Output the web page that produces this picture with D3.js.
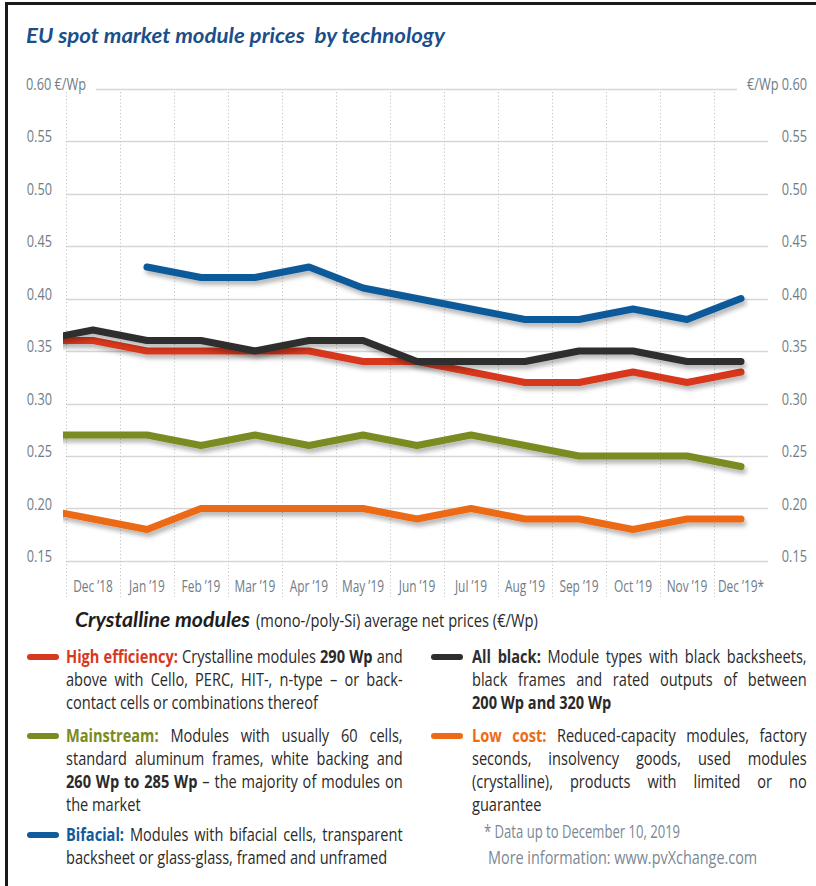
<!DOCTYPE html>
<html>
<head>
<meta charset="utf-8">
<script src="https://cdn.jsdelivr.net/npm/d3@7"></script>
<style>
  body { margin: 0; background: #fff; }
  svg { display: block; }
</style>
</head>
<body>
<div id="chart"></div>
<script>
// months on the x axis (Nov '18 only feeds the clipped lead-in of the lines)
var months = ["Nov ’18", "Dec ’18", "Jan ’19", "Feb ’19", "Mar ’19", "Apr ’19", "May ’19",
              "Jun ’19", "Jul ’19", "Aug ’19", "Sep ’19", "Oct ’19", "Nov ’19", "Dec ’19*"];
var shownMonths = months.slice(1);

// prices in €/Wp
var highEfficiency = [0.36, 0.36, 0.35, 0.35, 0.35, 0.35, 0.34, 0.34, 0.33, 0.32, 0.32, 0.33, 0.32, 0.33];
var allBlack       = [0.36, 0.37, 0.36, 0.36, 0.35, 0.36, 0.36, 0.34, 0.34, 0.34, 0.35, 0.35, 0.34, 0.34];
var mainstream     = [0.27, 0.27, 0.27, 0.26, 0.27, 0.26, 0.27, 0.26, 0.27, 0.26, 0.25, 0.25, 0.25, 0.24];
var bifacial       = [null, null, 0.43, 0.42, 0.42, 0.43, 0.41, 0.40, 0.39, 0.38, 0.38, 0.39, 0.38, 0.40];
var lowCost        = [0.20, 0.19, 0.18, 0.20, 0.20, 0.20, 0.20, 0.19, 0.20, 0.19, 0.19, 0.18, 0.19, 0.19];

var yTicks = [0.15, 0.20, 0.25, 0.30, 0.35, 0.40, 0.45, 0.50, 0.55, 0.60];

var colors = {
    high: "#d7391f", black: "#2e2e2e", main: "#7b8a21", bifacial: "#115a9b", low: "#ec6b14"
};

// legend texts: each line is a list of [text, style] pieces
var legendLeft = [
  { color: colors.high, lines: [
      [["High efficiency:", colors.high], [" Crystalline modules "], ["290 Wp", "b"], [" and"]],
      [["above with Cello, PERC, HIT-, n-type – or back-"]],
      [["contact cells or combinations thereof"]] ] },
  { color: colors.main, lines: [
      [["Mainstream:", colors.main], [" Modules with usually 60 cells,"]],
      [["standard aluminum frames, white backing and"]],
      [["260 Wp to 285 Wp", "b"], [" – the majority of modules on"]],
      [["the market"]] ] },
  { color: colors.bifacial, lines: [
      [["Bifacial:", colors.bifacial], [" Modules with bifacial cells, transparent"]],
      [["backsheet or glass-glass, framed and unframed"]] ] }
];
var legendRight = [
  { color: colors.black, lines: [
      [["All black:", colors.black], [" Module types with black backsheets,"]],
      [["black frames and rated outputs of between"]],
      [["200 Wp and 320 Wp", "b"]] ] },
  { color: colors.low, lines: [
      [["Low cost:", colors.low], [" Reduced-capacity modules, factory"]],
      [["seconds, insolvency goods, used modules"]],
      [["(crystalline), products with limited or no"]],
      [["guarantee"]] ] }
];
var footnotes = ["* Data up to December 10, 2019", "More information: www.pvXchange.com"];

// no condensed font installed: squeeze Open Sans horizontally instead
var FONT = "'Open Sans', 'Noto Sans', sans-serif";
var SQUEEZE = 0.75;
var LEGEND_SQUEEZE = 0.81;
var GREY = "#6f7c87";

var W = 816, H = 886;
var svg = d3.select("#chart").append("svg")
    .attr("width", W).attr("height", H);

function narrow(parent, str, x, y, size, anchor, sx) {
    var g = parent.append("g")
        .attr("transform", "translate(" + x + "," + y + ") scale(" + (sx || SQUEEZE) + ",1)");
    return g.append("text")
        .attr("x", 0).attr("y", 0)
        .attr("text-anchor", anchor || "start")
        .attr("font-family", FONT).attr("font-size", size)
        .style("white-space", "pre")
        .text(str);
}

// squeeze a narrow() text so it spans a given width
function fitTo(t, x, y, width) {
    var w = t.node().getComputedTextLength();
    d3.select(t.node().parentNode)
        .attr("transform", "translate(" + x + "," + y + ") scale(" + (width / w) + ",1)");
}

var defs = svg.append("defs");
defs.append("clipPath").attr("id", "plotClip")
  .append("rect").attr("x", 63).attr("y", 0).attr("width", 760).attr("height", 620);
var shadow = defs.append("filter").attr("id", "shadow")
    .attr("x", "-5%").attr("y", "-50%").attr("width", "110%").attr("height", "200%");
shadow.append("feDropShadow")
    .attr("dx", 2).attr("dy", 4).attr("stdDeviation", 2.2)
    .attr("flood-color", "#000").attr("flood-opacity", 0.28);

// frame (top + left only)
svg.append("path")
    .attr("d", "M6.5," + H + "V3.5H" + W)
    .attr("fill", "none").attr("stroke", "#1a1a1a").attr("stroke-width", 3);

// title
svg.append("text")
    .attr("x", 26).attr("y", 43)
    .attr("font-family", "Lato, 'Open Sans', sans-serif")
    .attr("font-weight", 700).attr("font-style", "italic")
    .attr("font-size", 21)
    .attr("fill", "#1b4f8a")
    .attr("textLength", 419).attr("lengthAdjust", "spacingAndGlyphs")
    .style("white-space", "pre")
    .text("EU spot market module prices  by technology");

// scales
var x = d3.scalePoint().domain(months).range([39, 741]);
var y = d3.scaleLinear().domain([0.15, 0.60]).range([561, 88.5]);
var half = x.step() / 2;

// horizontal gridlines
svg.append("g").selectAll("line")
  .data(yTicks).enter().append("line")
    .attr("x1", function(d) { return d === 0.60 ? 96 : 66; })
    .attr("x2", function(d) { return d === 0.60 ? 737 : 768; })
    .attr("y1", function(d) { return Math.round(y(d)) + 0.5; })
    .attr("y2", function(d) { return Math.round(y(d)) + 0.5; })
    .attr("stroke", "#d6d6d6").attr("stroke-width", 1.3);

// vertical dotted lines
svg.append("g").selectAll("line")
  .data(shownMonths).enter().append("line")
    .attr("x1", function(d) { return Math.round(x(d) - half) + 0.5; })
    .attr("x2", function(d) { return Math.round(x(d) - half) + 0.5; })
    .attr("y1", 92).attr("y2", 597)
    .attr("stroke", "#c4c4c4").attr("stroke-width", 1)
    .attr("stroke-dasharray", "1.2,2.3");

// y labels left and right
var fmt = d3.format(".2f");
var axisG = svg.append("g").attr("fill", GREY);
yTicks.forEach(function(d) {
    if (d === 0.60) {
        narrow(axisG, fmt(d) + " €/Wp", 26, y(d) + 1, 17, "start");
        narrow(axisG, "€/Wp " + fmt(d), 807, y(d) + 1, 17, "end");
    } else {
        narrow(axisG, fmt(d), 52, y(d) + 1, 17, "end");
        narrow(axisG, fmt(d), 807, y(d) + 1, 17, "end");
    }
});

// month labels
shownMonths.forEach(function(m) {
    narrow(axisG, m, x(m), 592, 17, "middle", 0.7);
});

// price lines
var series = [
    { values: lowCost, color: colors.low },
    { values: mainstream, color: colors.main },
    { values: highEfficiency, color: colors.high },
    { values: allBlack, color: colors.black },
    { values: bifacial, color: colors.bifacial }
];
var line = d3.line()
    .defined(function(d) { return d != null; })
    .x(function(d, i) { return x(months[i]); })
    .y(function(d) { return y(d); });

var plot = svg.append("g").attr("clip-path", "url(#plotClip)");
plot.selectAll("path")
  .data(series).enter().append("path")
    .attr("d", function(d) { return line(d.values); })
    .attr("fill", "none")
    .attr("stroke", function(d) { return d.color; })
    .attr("stroke-width", 7)
    .attr("stroke-linecap", "round")
    .attr("stroke-linejoin", "round")
    .attr("filter", "url(#shadow)");

// legend header
svg.append("text")
    .attr("x", 75).attr("y", 627)
    .attr("font-family", "Lato, 'Open Sans', sans-serif")
    .attr("font-weight", 700).attr("font-style", "italic")
    .attr("font-size", 20).attr("fill", "#1e1e1e")
    .attr("textLength", 175).attr("lengthAdjust", "spacingAndGlyphs")
    .text("Crystalline modules");
var sub = narrow(svg, "(mono-/poly-Si) average net prices (€/Wp)", 256, 627, 18, "start", 1)
    .attr("fill", "#2a2a2a");
fitTo(sub, 256, 627, 282);

// justified legend blocks
function drawBlock(item, swatchX, textX, width, baseline) {
    svg.append("line")
        .attr("x1", swatchX).attr("x2", swatchX + 26)
        .attr("y1", baseline - 6).attr("y2", baseline - 6)
        .attr("stroke", item.color).attr("stroke-width", 6)
        .attr("stroke-linecap", "round");
    item.lines.forEach(function(pieces, i) {
        var g = svg.append("g");
        var t = g.append("text")
            .attr("x", 0).attr("y", 0)
            .attr("font-family", FONT).attr("font-size", 18)
            .attr("fill", "#2a2a2a")
            .style("white-space", "pre");
        pieces.forEach(function(p) {
            var ts = t.append("tspan").text(p[0]);
            if (p[1]) {
                ts.attr("font-weight", 700);
                if (p[1] !== "b") ts.attr("fill", p[1]);
            }
        });
        var last = i === item.lines.length - 1;
        var w = t.node().getComputedTextLength();
        var spaces = (t.text().match(/ /g) || []).length;
        var sx = Math.min(LEGEND_SQUEEZE, width / w);
        if (!last && spaces > 0) {
            t.attr("word-spacing", (width / sx - w) / spaces);
        }
        g.attr("transform", "translate(" + textX + "," + (baseline + i * 23) + ") scale(" + sx + ",1)");
    });
}

var leftBase = [663, 742, 841];
legendLeft.forEach(function(item, i) { drawBlock(item, 30, 66, 337, leftBase[i]); });
var rightBase = [663, 742];
legendRight.forEach(function(item, i) { drawBlock(item, 434, 472, 335, rightBase[i]); });

// footnote
var footG = svg.append("g").attr("fill", "#7b8893");
fitTo(narrow(footG, footnotes[0], 484, 838, 18, "start"), 484, 838, 196);
fitTo(narrow(footG, footnotes[1], 488, 864, 18, "start"), 488, 864, 269);
</script>
</body>
</html>
